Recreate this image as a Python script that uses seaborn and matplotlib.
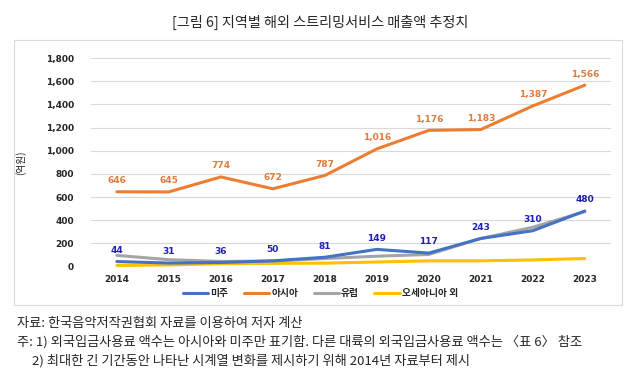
import matplotlib
matplotlib.use("Agg")
import matplotlib.pyplot as plt
from matplotlib.patches import Rectangle
import seaborn as sns
import pandas as pd

years = [2014, 2015, 2016, 2017, 2018, 2019, 2020, 2021, 2022, 2023]
americas = [44, 31, 36, 50, 81, 149, 117, 243, 310, 480]
asia = [646, 645, 774, 672, 787, 1016, 1176, 1183, 1387, 1566]
europe = [97, 60, 45, 48, 70, 90, 105, 243, 340, 475]
oceania = [10, 15, 25, 28, 30, 40, 50, 50, 58, 70]
series_names = ["미주", "아시아", "유럽", "오세아니아 외"]
series_colors = ["#4472C4", "#ED7D31", "#A5A5A5", "#FFC000"]
y_ticks = [0, 200, 400, 600, 800, 1000, 1200, 1400, 1600, 1800]

sns.set_theme(style="white")
plt.rcParams["font.family"] = ["Noto Sans CJK KR", "DejaVu Sans"]

rows = []
for name, vals in zip(series_names, [americas, asia, europe, oceania]):
    for i, v in enumerate(vals):
        rows.append({"idx": i, "value": v, "region": name})
df = pd.DataFrame(rows)

fig = plt.figure(figsize=(6.31, 3.82), dpi=100)
ax = fig.add_axes([0.144, 0.302, 0.824, 0.546])

# draw order: gray and yellow under blue/orange
order = ["오세아니아 외", "유럽", "미주", "아시아"]
palette = dict(zip(series_names, series_colors))
for name in order:
    sns.lineplot(data=df[df.region == name], x="idx", y="value", color=palette[name],
                 linewidth=2.2, ax=ax, legend=False)

ax.set_xlim(-0.5, 9.5)
ax.set_ylim(0, 1800)
ax.set_yticks(y_ticks)
ax.set_yticklabels([f"{t:,}" for t in y_ticks], fontsize=6.5, fontweight="bold",
                   family=["DejaVu Sans"])
ax.set_xticks(range(len(years)))
ax.set_xticklabels([str(y) for y in years], fontsize=6.5, fontweight="bold",
                   family=["DejaVu Sans"])
ax.tick_params(axis="y", length=0, pad=12)
ax.tick_params(axis="x", length=0, pad=6)
ax.grid(axis="y", color="#D9D9D9", linewidth=0.8)
for s in ax.spines.values():
    s.set_visible(False)
ax.set_xlabel("")
ax.set_ylabel("(억원)", fontsize=7)
ax.yaxis.set_label_coords(-0.125, 0.5)

for i, v in enumerate(asia):
    ax.annotate(f"{v:,}", (i, v), xytext=(0, 8), textcoords="offset points",
                ha="center", va="center", fontsize=6.5, fontweight="bold",
                color="#E07B3C", family=["DejaVu Sans"])
for i, v in enumerate(americas):
    ax.annotate(f"{v:,}", (i, v), xytext=(0, 8), textcoords="offset points",
                ha="center", va="center", fontsize=6.5, fontweight="bold",
                color="#1F1FB4", family=["DejaVu Sans"])

handles = [plt.Line2D([], [], color=c, linewidth=2.2) for c in series_colors]
fig.legend(handles, series_names, loc="center", bbox_to_anchor=(0.508, 0.232),
           ncol=4, frameon=False, handlelength=2.6, handletextpad=0.2,
           columnspacing=1.6, prop={"weight": "bold", "size": 7})

fig.patches.append(Rectangle((14 / 631, 1 - 305 / 382), 608 / 631, 265 / 382,
                             transform=fig.transFigure, fill=False,
                             edgecolor="#D9D9D9", linewidth=0.8))

fig.text(0.508, 1 - 22 / 382, "[그림 6] 지역별 해외 스트리밍서비스 매출액 추정치",
         ha="center", va="center", fontsize=10.2)
fig.text(17 / 631, 1 - 323 / 382, "자료: 한국음악저작권협회 자료를 이용하여 저자 계산",
         ha="left", va="center", fontsize=9.5)
fig.text(17 / 631, 1 - 342 / 382,
         "주: 1) 외국입금사용료 액수는 아시아와 미주만 표기함. 다른 대륙의 외국입금사용료 액수는 〈표 6〉 참조",
         ha="left", va="center", fontsize=9.5)
fig.text(32 / 631, 1 - 361 / 382,
         "2) 최대한 긴 기간동안 나타난 시계열 변화를 제시하기 위해 2014년 자료부터 제시",
         ha="left", va="center", fontsize=9.5)

fig.savefig("out.png", dpi=100)
